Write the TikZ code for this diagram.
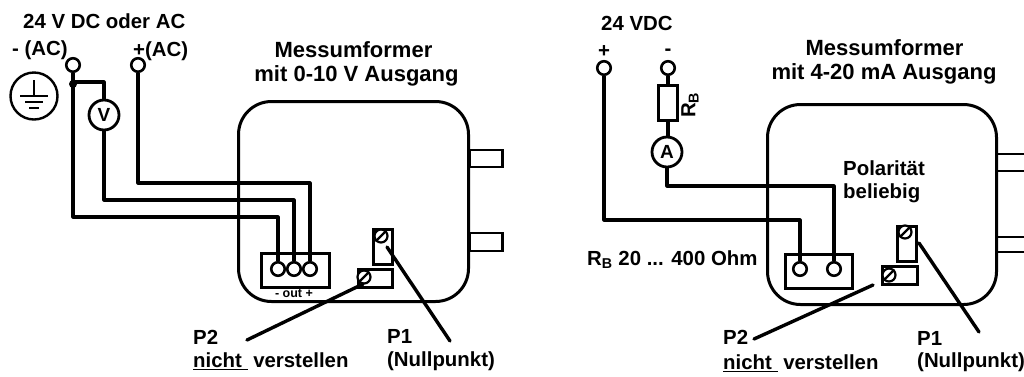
\documentclass[tikz,border=0pt]{standalone}
\usepackage{fontspec}
\setmainfont{Liberation Sans}
\tikzset{
 wire/.style={line width=3.2pt,line join=round},
 body/.style={draw,line width=3pt,rounded corners=33pt,fill=none},
 box/.style={draw,line width=2.6pt,inner sep=0pt},
 term/.style={circle,draw,line width=2.6pt,fill=white,inner sep=0pt,minimum size=13.5pt},
 meter/.style={circle,draw,line width=2.8pt,fill=white,inner sep=0pt,minimum size=30pt,font=\bfseries\fontsize{19}{19}\selectfont},
 screw/.style={circle,draw,line width=2.2pt,fill=white,inner sep=0pt,minimum size=13pt},
 lab/.style={inner sep=0pt,font=\bfseries\fontsize{20.4}{22}\selectfont,text=black},
 headl/.style={inner sep=0pt,font=\bfseries\fontsize{22}{24}\selectfont,text=black},
}
\begin{document}
\begin{tikzpicture}[x=1pt,y=-1pt]
\useasboundingbox (0,0) rectangle (1024,376);
% ---------- LEFT ----------
\node[lab,anchor=west] (ltitle) at (23,21) {24 V DC oder AC};
\node[lab,anchor=west] (lminus) at (12,50) {- (AC)};
\node[lab,anchor=west] (lplus) at (133,51) {+(AC)};
\node[headl] (lhead) at (353.5,50) {Messumformer};
\node[headl] (lhead2) at (356.5,76) {mit 0-10 V Ausgang};
% housing
\node[body,minimum width=230pt,minimum height=200pt,anchor=north west] (lhouse) at (237,100) {};
\node[box,minimum width=33pt,minimum height=17pt,anchor=west] (ltab1) at (468,158.5) {};
\node[box,minimum width=33pt,minimum height=18pt,anchor=west] (ltab2) at (468,242) {};
% ground
\node[circle,draw,line width=2.4pt,minimum size=47pt,inner sep=0pt] (gnd) at (34,96) {};
\coordinate (g0) at (34,80); \coordinate (g1) at (34,96);
\coordinate (g2a) at (20,96); \coordinate (g2b) at (48,96);
\coordinate (g3a) at (25,102); \coordinate (g3b) at (43,102);
\coordinate (g4a) at (29,108); \coordinate (g4b) at (39,108);
\draw[line width=2.2pt] (g0)--(g1) (g2a)--(g2b) (g3a)--(g3b) (g4a)--(g4b);
% terminals
\node[box,minimum width=68pt,minimum height=34pt,anchor=north west] (lblock) at (260,252) {};
\node[term] (lm) at (73,65) {};
\node[term] (lp) at (138,65) {};
\node[meter] (V) at (104,115) {V};
\coordinate (lj) at (73,84);
\coordinate (lvb) at (104,82);
\coordinate (lb1) at (73,217);
\coordinate (lb2) at (104,200);
\coordinate (lb3) at (138,183);
\node[term] (lt1) at (278,269) {};
\node[term] (lt2) at (294,269) {};
\node[term] (lt3) at (310,269) {};
\draw[wire] (lm.south)--(lb1)--(lb1-|lt1)--(lt1.north);
\draw[wire] (lj|-lvb)--(lvb)--(V.north);
\draw[wire] (V.south)--(lb2)--(lb2-|lt2)--(lt2.north);
\draw[wire] (lp.south)--(lb3)--(lb3-|lt3)--(lt3.north);
\fill (lj) circle (4pt);
\node[inner sep=0pt,font=\bfseries\fontsize{12.5}{13}\selectfont] (lout) at (294,293) {- out +};
% pots
\node[box,minimum width=19pt,minimum height=35pt,anchor=north west] (lp1) at (372,228) {};
\node[box,minimum width=34pt,minimum height=18pt,anchor=north west] (lp2) at (357,268) {};
\node[screw] (ls1) at (381,236) {};
\node[screw] (ls2) at (364,277) {};
\draw[line width=2.2pt] (ls1.north east)--(ls1.south west) (ls2.north east)--(ls2.south west);
\coordinate (lp1a) at (387,247); \coordinate (lp1b) at (450,341);
\coordinate (lp2a) at (363,284); \coordinate (lp2b) at (247,340);
\draw[wire,line width=3.4pt,line cap=round] (lp1a)--(lp1b);
\draw[wire,line width=3.4pt,line cap=round] (lp2a)--(lp2b);
\node[lab,anchor=west] (lP2) at (193,337) {P2};
\node[lab,anchor=west] (lP2t) at (193,361) {\underline{nicht\ } verstellen};
\node[lab,anchor=west] (lP1) at (387,336) {P1};
\node[lab,anchor=west] (lP1t) at (387,361) {(Nullpunkt)};
% ---------- RIGHT ----------
\node[lab,anchor=west] (rtitle) at (601,23) {24 VDC};
\node[lab] (rplus) at (604,52) {+};
\node[lab] (rminus) at (668,52) {-};
\node[headl] (rhead) at (884.5,48) {Messumformer};
\node[headl] (rhead2) at (884,74) {mit 4-20 mA Ausgang};
\node[body,minimum width=229pt,minimum height=200pt,anchor=north west] (rhouse) at (766,103) {};
\coordinate (rt1e) at (1030,154); \coordinate (rt1f) at (1030,171);
\coordinate (rt2e) at (1030,237); \coordinate (rt2f) at (1030,252);
\draw[line width=2.6pt] (rt1e)--(rt1e-|rhouse.east) (rt1f)--(rt1f-|rhouse.east) (rt2e)--(rt2e-|rhouse.east) (rt2f)--(rt2f-|rhouse.east);
\node[lab,anchor=west] (rpol) at (843,168) {Polarität};
\node[lab,anchor=west] (rpol2) at (843,193) {beliebig};
\node[box,minimum width=67pt,minimum height=34pt,anchor=north west] (rblock) at (784,253) {};
\node[term] (rt1) at (800,269) {};
\node[term] (rt2) at (834,269) {};
\node[term] (rp) at (604,68) {};
\node[term] (rm) at (668,68) {};
\node[draw,line width=2.8pt,minimum width=19pt,minimum height=35pt,inner sep=0pt,anchor=north,fill=white] (RB) at (668,84) {};
\node[meter] (A) at (667,152) {A};
\node[lab,rotate=90] (rRB) at (690,105) {R\textsubscript{B}};
\coordinate (rb1) at (604,220);
\coordinate (rb2) at (667,186);
\draw[wire] (rm.south)--(RB.north);
\draw[wire] (RB.south)--(RB.south|-A.north);
\draw[wire] (A.south)--(rb2)--(rb2-|rt2)--(rt2.north);
\draw[wire] (rp.south)--(rb1)--(rb1-|rt1)--(rt1.north);
\node[lab,anchor=west] (rRB2) at (587,260) {R\textsubscript{B} 20 ... 400 Ohm};
\node[box,minimum width=19pt,minimum height=35pt,anchor=north west] (rp1) at (896,225) {};
\node[box,minimum width=35pt,minimum height=18pt,anchor=north west] (rp2) at (881,265) {};
\node[screw] (rs1) at (905,232) {};
\node[screw] (rs2) at (889,275) {};
\draw[line width=2.2pt] (rs1.north east)--(rs1.south west) (rs2.north east)--(rs2.south west);
\coordinate (rp1a) at (919,243); \coordinate (rp1b) at (979,332);
\coordinate (rp2a) at (873,285); \coordinate (rp2b) at (754,339);
\draw[wire,line width=3.4pt,line cap=round] (rp1a)--(rp1b);
\draw[wire,line width=3.4pt,line cap=round] (rp2a)--(rp2b);
\node[lab,anchor=west] (rP2) at (723,337) {P2};
\node[lab,anchor=west] (rP2t) at (723,363) {\underline{nicht\ } verstellen};
\node[lab,anchor=west] (rP1) at (917,338) {P1};
\node[lab,anchor=west] (rP1t) at (917,362) {(Nullpunkt)};
\end{tikzpicture}
\end{document}
